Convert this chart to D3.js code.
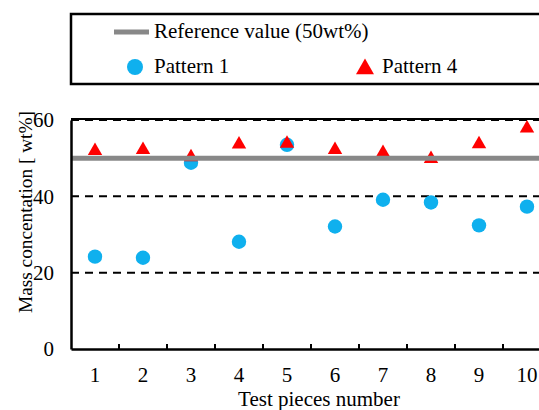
<!DOCTYPE html>
<html>
<head>
<meta charset="utf-8">
<script src="https://cdn.jsdelivr.net/npm/d3@7"></script>
<style>
body{margin:0;background:#fff;}
svg{display:block;font-family:"Liberation Serif","Times New Roman",serif;}
</style>
</head>
<body>
<script>
var width=539;
var height=410;
var padding={top:120,right:-12,bottom:61,left:71};
var pieces=[1,2,3,4,5,6,7,8,9,10];
var pattern1=[24.2,23.9,48.8,28.1,53.5,32.1,39.1,38.4,32.4,37.3];
var pattern4=[51.9,52.2,50.3,53.6,53.8,52.2,51.4,49.8,53.7,57.8];
var refValue=50;
var yTicks=[0,20,40,60];
var gridLines=[20,40,60];

var svg=d3.select("body").append("svg").attr("width",width).attr("height",height);

var x=d3.scaleBand().domain(pieces).range([padding.left,width-padding.right]);
var y=d3.scaleLinear().domain([0,60]).range([height-padding.bottom,padding.top]);

// dashed grid
svg.selectAll(".grid").data(gridLines).enter().append("line")
    .attr("x1",padding.left).attr("x2",width-padding.right)
    .attr("y1",function(d){return y(d);}).attr("y2",function(d){return y(d);})
    .attr("stroke","#000").attr("stroke-width",2).attr("stroke-dasharray","8,6");
// top frame
svg.append("line").attr("x1",padding.left).attr("x2",width-padding.right)
    .attr("y1",y(60)-1).attr("y2",y(60)-1).attr("stroke","#000").attr("stroke-width",2);

// points
svg.selectAll(".p1").data(pattern1).enter().append("circle")
    .attr("cx",function(d,i){return x(pieces[i])+x.bandwidth()/2;})
    .attr("cy",function(d){return y(d);})
    .attr("r",7.2).attr("fill","#0fb0ee");

var tri=d3.symbol().type(d3.symbolTriangle).size(90);
svg.selectAll(".p4").data(pattern4).enter().append("path")
    .attr("d",tri)
    .attr("transform",function(d,i){return "translate("+(x(pieces[i])+x.bandwidth()/2)+","+y(d)+")";})
    .attr("fill","#ff0000");

// reference line
svg.append("line").attr("x1",padding.left).attr("x2",width-padding.right)
    .attr("y1",y(refValue)).attr("y2",y(refValue))
    .attr("stroke","#888").attr("stroke-width",5);

// axes
var yAxis=d3.axisLeft(y).tickValues(yTicks).tickSize(0).tickPadding(17);
var gy=svg.append("g").attr("transform","translate("+padding.left+",0)").call(yAxis);
gy.select(".domain").attr("stroke","#000").attr("stroke-width",2.5);
gy.selectAll("text").attr("font-size","21px").attr("fill","#000")
    .attr("font-family","Liberation Serif");

var xAxis=d3.axisBottom(x).tickSize(0).tickPadding(18);
var gx=svg.append("g").attr("transform","translate(0,"+(height-padding.bottom)+")").call(xAxis);
gx.select(".domain").attr("stroke","#000").attr("stroke-width",2.5);
gx.selectAll("text").attr("font-size","21px").attr("fill","#000")
    .attr("font-family","Liberation Serif");
// inward ticks at category boundaries
svg.selectAll(".xtick").data(pieces.slice(1)).enter().append("line")
    .attr("x1",function(d){return x(d);}).attr("x2",function(d){return x(d);})
    .attr("y1",height-padding.bottom).attr("y2",height-padding.bottom-5)
    .attr("stroke","#000").attr("stroke-width",2);

// axis titles
svg.append("text").attr("x",319).attr("y",406)
    .attr("text-anchor","middle").attr("font-size","21px").text("Test pieces number");
svg.append("text").attr("transform","translate(32,212) rotate(-90)")
    .attr("text-anchor","middle").attr("font-size","19.3px").text("Mass concentation [ wt%]");

// legend
var lg=svg.append("g");
lg.append("rect").attr("x",71).attr("y",14).attr("width",500).attr("height",70)
    .attr("fill","none").attr("stroke","#000").attr("stroke-width",2.5);
lg.append("line").attr("x1",114).attr("x2",149).attr("y1",32).attr("y2",32)
    .attr("stroke","#888").attr("stroke-width",5);
lg.append("text").attr("x",154).attr("y",38).attr("font-size","21px").text("Reference value (50wt%)");
lg.append("circle").attr("cx",135).attr("cy",67).attr("r",8).attr("fill","#0fb0ee");
lg.append("text").attr("x",154).attr("y",73).attr("font-size","21px").text("Pattern 1");
lg.append("path").attr("d",d3.symbol().type(d3.symbolTriangle).size(140))
    .attr("transform","translate(365,69)").attr("fill","#ff0000");
lg.append("text").attr("x",382).attr("y",73).attr("font-size","21px").text("Pattern 4");
</script>
</body>
</html>
